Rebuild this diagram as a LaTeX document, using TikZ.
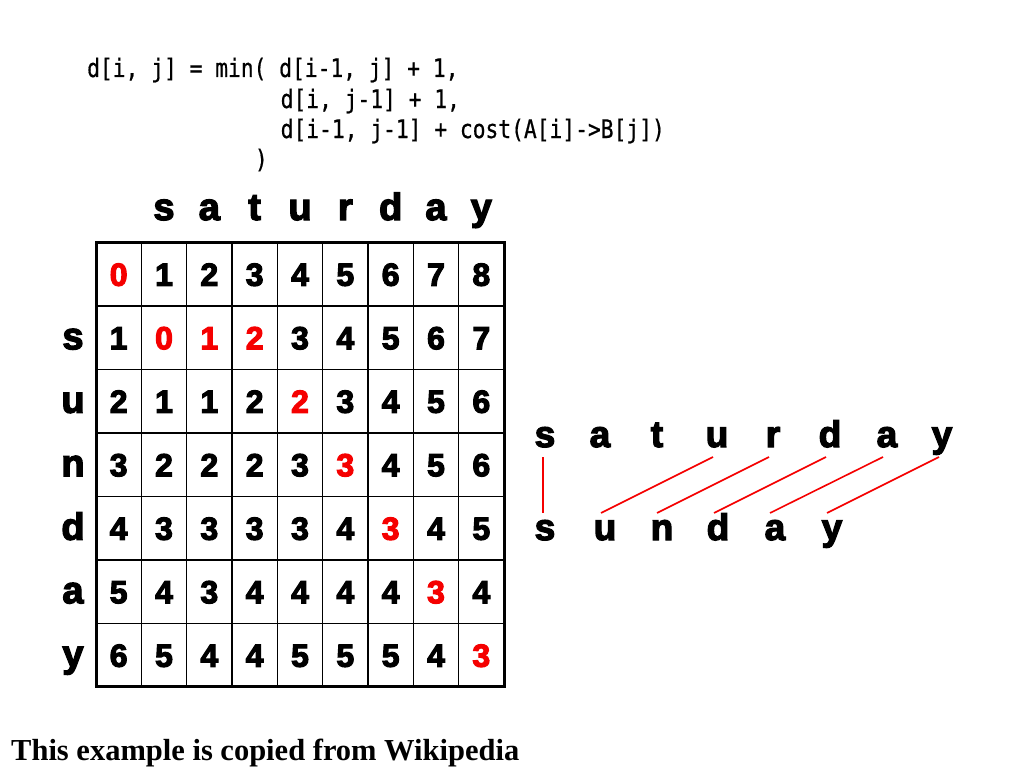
\documentclass[tikz,border=0pt]{standalone}
\usepackage{fontspec}
\setmainfont{Liberation Sans}
\newfontfamily\heavyfont[FakeBold=3.5]{Liberation Sans Bold}
\newfontfamily\codefont[FakeStretch=0.834,FakeBold=0.6]{DejaVu Sans Mono}
\newfontfamily\notefont{Liberation Serif}
\usetikzlibrary{calc}
\definecolor{hl}{RGB}{245,0,0}
\newcommand\hlnum[1]{\textcolor{hl}{#1}}
\begin{document}
\begin{tikzpicture}[x=1pt,y=-1pt,
  cell/.style={font=\heavyfont\fontsize{32}{32}\selectfont, anchor=base, inner sep=0pt},
  lbl/.style={font=\heavyfont\fontsize{38}{38}\selectfont, anchor=base, inner sep=0pt},
  word/.style={font=\heavyfont\fontsize{37}{37}\selectfont, anchor=base, inner sep=0pt},
  code/.style={font=\codefont\fontsize{25.5}{25.5}\selectfont, anchor=base west, inner sep=0pt},
  note/.style={font=\notefont\bfseries\fontsize{30.5}{30.5}\selectfont, anchor=base west, inner sep=0pt},
  gridline/.style={draw=black, line width=1.2pt},
  frame/.style={draw=black, line width=3pt},
  link/.style={draw=hl, line width=1.6pt}
]
\useasboundingbox[fill=white] (0,0) rectangle (1024,768);

% formula
\node[code] (f1) at (87,77) {d[i, j] = min( d[i-1, j] + 1,};
\node[code] (f2) at (280.5,108) {d[i, j-1] + 1,};
\node[code] (f3) at (280.5,138) {d[i-1, j-1] + cost(A[i]->B[j])};
\node[code] (f4) at (254.7,168) {)};

% grid
\foreach \k in {1,...,8} \draw[gridline] ({96+45.333*\k},242.5) -- ({96+45.333*\k},686.5);
\foreach \k in {1,...,6} \draw[gridline] (96,{242.5+63.5*\k}) -- (504,{242.5+63.5*\k});
\draw[frame] (96,242.5) rectangle (504,686.5);

% values
\foreach \r/\vals in {
  0/{\hlnum{0},1,2,3,4,5,6,7,8},
  1/{1,\hlnum{0},\hlnum{1},\hlnum{2},3,4,5,6,7},
  2/{2,1,1,2,\hlnum{2},3,4,5,6},
  3/{3,2,2,2,3,\hlnum{3},4,5,6},
  4/{4,3,3,3,3,4,\hlnum{3},4,5},
  5/{5,4,3,4,4,4,4,\hlnum{3},4},
  6/{6,5,4,4,5,5,5,4,\hlnum{3}}} {
  \foreach \v [count=\c from 0] in \vals {
    \node[cell] (n\r-\c) at ({118.67+45.333*\c},{274.25+63.5*\r+11.5}) {\v};
  }
}

% column header
\foreach \ch [count=\c from 1] in {s,a,t,u,r,d,a,y}
  \node[lbl] (h\c) at ({118.67+45.333*\c},220) {\ch};
% row header
\foreach \ch [count=\r from 1] in {s,u,n,d,a,y}
  \node[lbl] (v\r) at (73,{274.25+63.5*\r+11.5}) {\ch};

% alignment words
\foreach \ch/\x [count=\c from 1] in {s/545,a/600,t/657,u/717,r/773,d/830,a/887,y/942}
  \node[word] (t\c) at (\x,447) {\ch};
\foreach \ch/\x [count=\c from 1] in {s/545,u/605,n/662,d/718,a/775,y/832}
  \node[word] (b\c) at (\x,540) {\ch};

\draw[link] ($(t1.base)+(-2,10)$) -- ($(b1.base)+(-2,-27)$);
\draw[link] ($(t4.base)+(-4,10)$) -- ($(b2.base)+(-4,-27)$);
\draw[link] ($(t5.base)+(-4,10)$) -- ($(b3.base)+(-5,-27)$);
\draw[link] ($(t6.base)+(-4,10)$) -- ($(b4.base)+(-4,-27)$);
\draw[link] ($(t7.base)+(-4,10)$) -- ($(b5.base)+(-5,-27)$);
\draw[link] ($(t8.base)+(-3,10)$) -- ($(b6.base)+(-5,-27)$);

% note
\node[note] (note) at (11,760) {This example is copied from Wikipedia};
\end{tikzpicture}
\end{document}
